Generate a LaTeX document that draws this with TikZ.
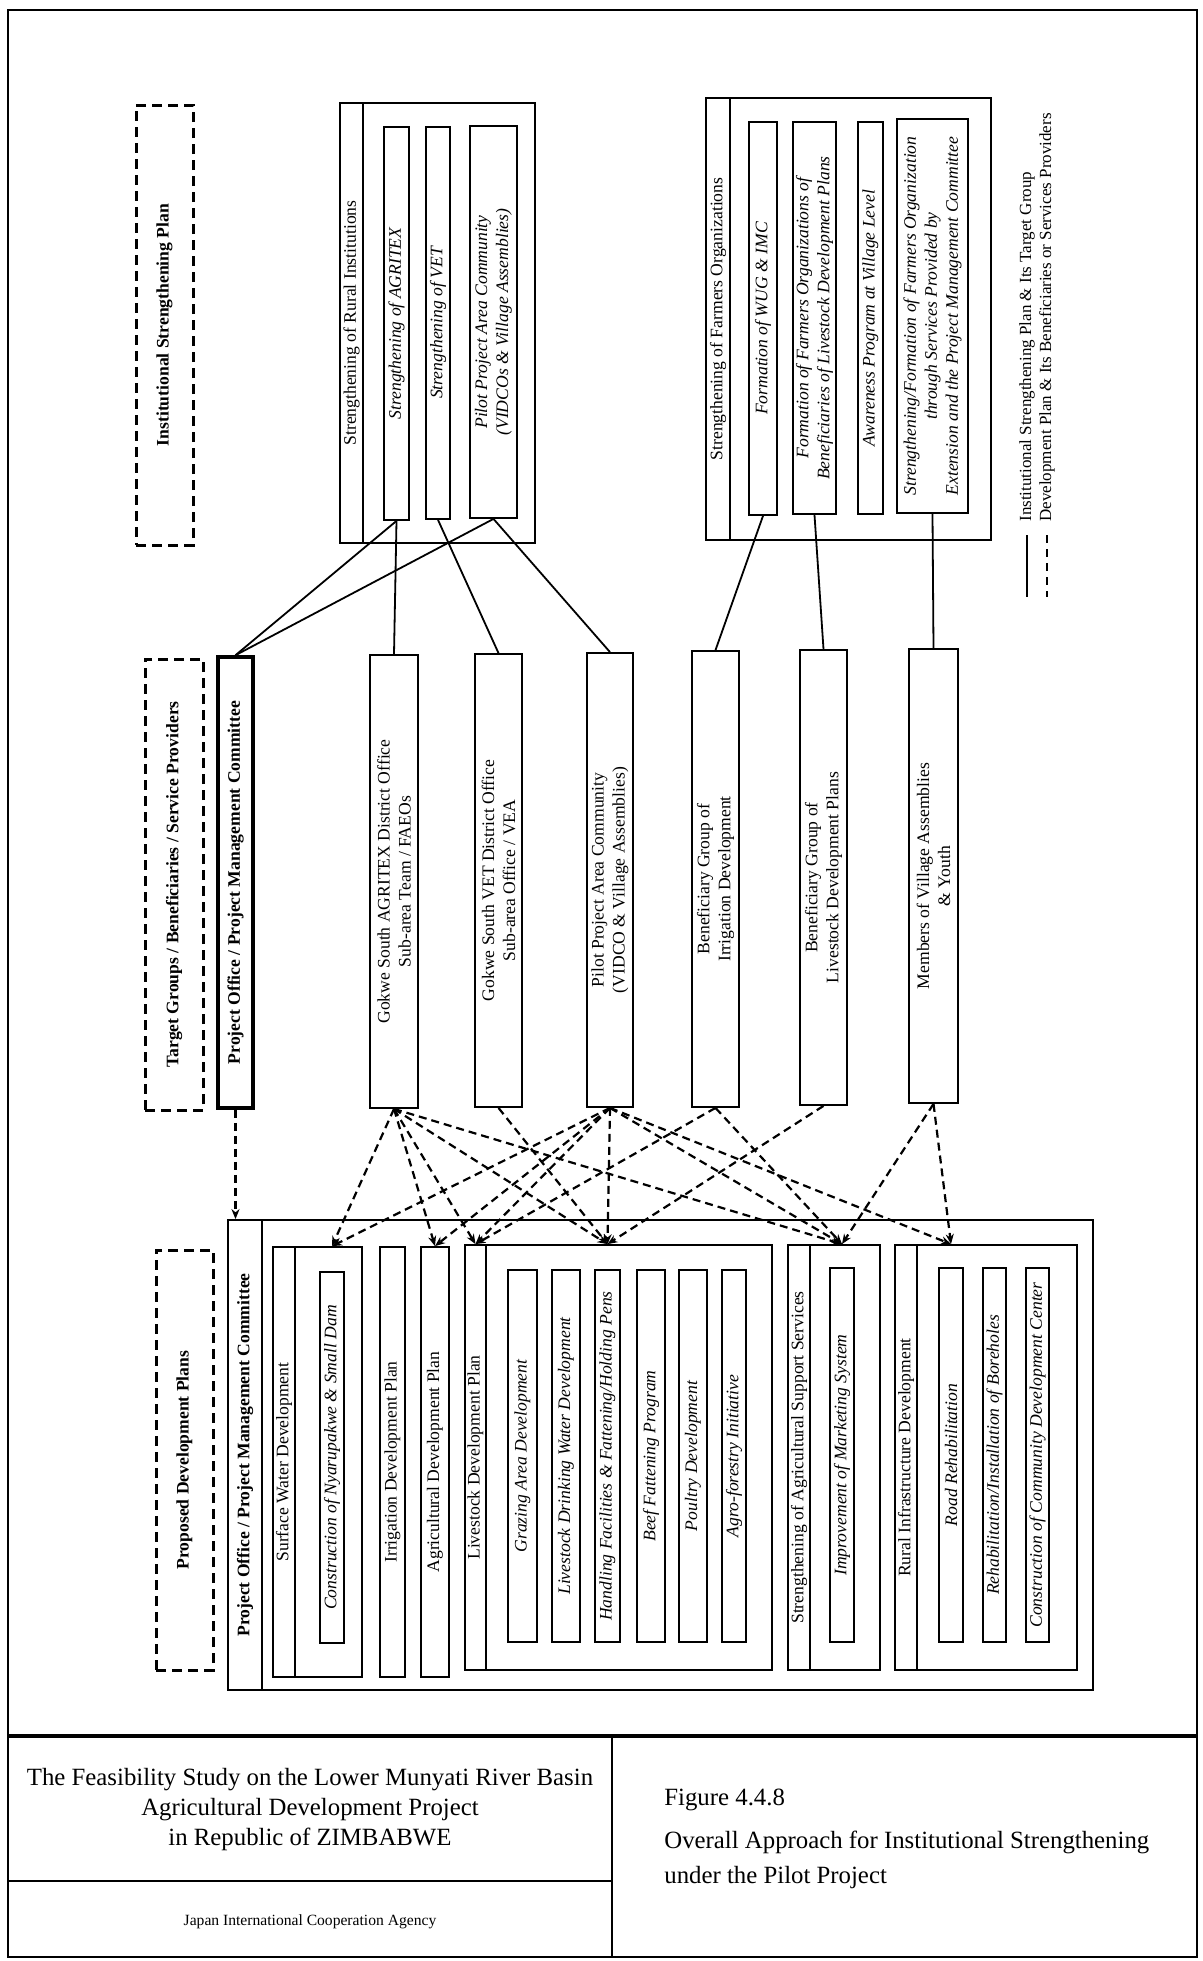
\documentclass[tikz,border=0pt]{standalone}
\usepackage{fontspec}
\setmainfont{Liberation Serif}
\usetikzlibrary{fit,arrows.meta}
\begin{document}
\begin{tikzpicture}[x=0.5pt, y=-0.5pt,
    box/.style={draw, line width=0.9pt, inner sep=0pt},
    thickbox/.style={draw, line width=1.8pt, inner sep=0pt},
    dbox/.style={draw, line width=1.5pt, dash pattern=on 5pt off 3pt, inner sep=0pt},
    txt/.style={rotate=90, align=center, inner sep=0pt, font=\fontsize{8.8}{10.5}\selectfont},
    itxt/.style={txt, font=\fontsize{8.8}{10.5}\selectfont\itshape},
    btxt/.style={txt, font=\fontsize{8.8}{10.5}\selectfont\bfseries},
    isline/.style={line width=0.9pt},
    dpline/.style={line width=1.1pt, dash pattern=on 4pt off 2.5pt, -{Stealth[length=5pt,width=4pt]}},
    ttl/.style={align=center, inner sep=0pt, font=\fontsize{12.4}{15}\selectfont},
  ]
  \useasboundingbox (0,0) rectangle (1203,1961);
  % page frame and title block
  \draw[line width=1.2pt] (8,10) rectangle (1197,1957);
  \draw[line width=1.6pt] (8,1736) -- (1197,1736);
  \draw[line width=1pt] (612,1736) -- (612,1957);
  \draw[line width=1.2pt] (8,1881) -- (612,1881);
  \node[ttl] (study) at (310,1810) {The Feasibility Study on the Lower Munyati River Basin\\Agricultural Development Project\\in Republic of ZIMBABWE};
  \node[ttl, font=\fontsize{7.8}{9}\selectfont] (jica) at (310,1922) {Japan International Cooperation Agency};
  \node[ttl, anchor=west] (fignum) at (664,1800) {Figure 4.4.8};
  \node[ttl, anchor=west, align=left, font=\fontsize{12.4}{17.5}\selectfont] (figttl) at (664,1860) {Overall Approach for Institutional Strengthening\\under the Pilot Project};

  % institutional strengthening plan
  \node[dbox, fit={(136,105)(193,545)}, label={[btxt]center:Institutional Strengthening Plan}] (isplan) {};
  \node[box, fit={(340,103)(535,543)}] (rural) {};
  \node[box, fit={(340,103)(363,543)}, label={[txt]center:Strengthening of Rural Institutions}] (ruralhd) {};
  \node[box, fit={(384,127)(409,520)}, label={[itxt]center:Strengthening of AGRITEX}] (sagritex) {};
  \node[box, fit={(426,127)(450,519)}, label={[itxt]center:Strengthening of VET}] (svet) {};
  \node[box, fit={(470,126)(517,518)}, label={[itxt]center:{Pilot Project Area Community\\(VIDCOs \& Village Assemblies)}}] (spilot) {};
  \node[box, fit={(706,98)(991,540)}] (farmers) {};
  \node[box, fit={(706,98)(730,540)}, label={[txt]center:Strengthening of Farmers Organizations}] (farmershd) {};
  \node[box, fit={(749,122)(777,515)}, label={[itxt]center:Formation of WUG \& IMC}] (fwug) {};
  \node[box, fit={(793,122)(836,514)}, label={[itxt]center:{Formation of Farmers Organizations of\\Beneficiaries of Livestock Development Plans}}] (fform) {};
  \node[box, fit={(858,122)(883,514)}, label={[itxt]center:Awareness Program at Village Level}] (faware) {};
  \node[box, fit={(897,119)(968,513)}, label={[itxt]center:{Strengthening/Formation of Farmers Organization\\through Services Provided by\\Extension and the Project Management Committee}}] (fstrength) {};

  % legend
  \node[txt, anchor=west, font=\fontsize{8.5}{10}\selectfont] (legis) at (1027,522) {Institutional Strengthening Plan \& Its Target Group};
  \node[txt, anchor=west, font=\fontsize{8.5}{10}\selectfont] (legdp) at (1047,522) {Development Plan \& Its Beneficiaries or Services Providers};
  \draw[isline] (1027,535) -- (1027,597);
  \draw[line width=1.1pt, dash pattern=on 4pt off 3pt] (1047,535) -- (1047,597);

  % target groups
  \node[dbox, fit={(145,659)(203,1110)}, label={[btxt]center:Target Groups / Beneficiaries / Service Providers}] (tgroups) {};
  \node[thickbox, fit={(218,657)(253,1108)}, label={[btxt]center:Project Office / Project Management Committee}] (pomid) {};
  \node[box, fit={(370,655)(418,1108)}, label={[txt]center:{Gokwe South AGRITEX District Office\\Sub-area Team / FAEOs}}] (agritex) {};
  \node[box, fit={(475,654)(522,1107)}, label={[txt]center:{Gokwe South VET District Office\\Sub-area Office / VEA}}] (vet) {};
  \node[box, fit={(587,653)(633,1107)}, label={[txt]center:{Pilot Project Area Community\\(VIDCO \& Village Assemblies)}}] (pilot) {};
  \node[box, fit={(692,651)(739,1107)}, label={[txt]center:{Beneficiary Group of\\Irrigation Development}}] (irrig) {};
  \node[box, fit={(800,650)(847,1105)}, label={[txt]center:{Beneficiary Group of\\Livestock Development Plans}}] (lvbg) {};
  \node[box, fit={(909,649)(958,1103)}, label={[txt]center:{Members of Village Assemblies\\\& Youth}}] (members) {};

  % proposed development plans
  \node[dbox, fit={(156,1250)(213,1670)}, label={[btxt]center:Proposed Development Plans}] (pdplans) {};
  \node[box, fit={(228,1220)(1093,1690)}] (outer) {};
  \node[box, fit={(228,1220)(262,1690)}, label={[btxt]center:Project Office / Project Management Committee}] (postrip) {};
  \node[box, fit={(273,1247)(362,1677)}] (surface) {};
  \node[box, fit={(273,1247)(295,1677)}, label={[txt]center:Surface Water Development}] (surfacehd) {};
  \node[box, fit={(320,1272)(344,1643)}, label={[itxt]center:Construction of Nyarupakwe \& Small Dam}] (nyaru) {};
  \node[box, fit={(380,1247)(405,1677)}, label={[txt]center:Irrigation Development Plan}] (irrplan) {};
  \node[box, fit={(421,1247)(449,1677)}, label={[txt]center:Agricultural Development Plan}] (agriplan) {};
  \node[box, fit={(465,1245)(772,1670)}] (livestock) {};
  \node[box, fit={(465,1245)(486,1670)}, label={[txt]center:Livestock Development Plan}] (lvhd) {};
  \node[box, fit={(508,1270)(537,1642)}, label={[itxt]center:Grazing Area Development}] (grazing) {};
  \node[box, fit={(552,1270)(580,1642)}, label={[itxt]center:Livestock Drinking Water Development}] (drinking) {};
  \node[box, fit={(595,1270)(620,1642)}, label={[itxt]center:Handling Facilities \& Fattening/Holding Pens}] (handling) {};
  \node[box, fit={(637,1270)(665,1642)}, label={[itxt]center:Beef Fattening Program}] (beef) {};
  \node[box, fit={(679,1270)(707,1642)}, label={[itxt]center:Poultry Development}] (poultry) {};
  \node[box, fit={(722,1270)(746,1642)}, label={[itxt]center:Agro-forestry Initiative}] (agro) {};
  \node[box, fit={(788,1245)(880,1670)}] (support) {};
  \node[box, fit={(788,1245)(810,1670)}, label={[txt]center:Strengthening of Agricultural Support Services}] (supporthd) {};
  \node[box, fit={(830,1268)(854,1642)}, label={[itxt]center:Improvement of Marketing System}] (marketing) {};
  \node[box, fit={(895,1245)(1077,1670)}] (infra) {};
  \node[box, fit={(895,1245)(917,1670)}, label={[txt]center:Rural Infrastructure Development}] (infrahd) {};
  \node[box, fit={(939,1268)(963,1642)}, label={[itxt]center:Road Rehabilitation}] (road) {};
  \node[box, fit={(983,1268)(1006,1642)}, label={[itxt]center:Rehabilitation/Installation of Boreholes}] (boreholes) {};
  \node[box, fit={(1026,1268)(1049,1642)}, label={[itxt]center:Construction of Community Development Center}] (community) {};

  % institutional strengthening links
  \draw[isline] (sagritex.south) -- (pomid.north);
  \draw[isline] (spilot.south) -- (pomid.north);
  \draw[isline] (sagritex.south) -- (agritex.north);
  \draw[isline] (svet.south) -- (vet.north);
  \draw[isline] (spilot.south) -- (pilot.north);
  \draw[isline] (fwug.south) -- (irrig.north);
  \draw[isline] (fform.south) -- (lvbg.north);
  \draw[isline] (fstrength.south) -- (members.north);

  % development plan links
  \draw[dpline] (pomid.south) -- (pomid.south |- outer.north);
  \draw[dpline] (agritex.south) -- (nyaru.north |- surface.north);
  \draw[dpline] (agritex.south) -- (agriplan.north);
  \draw[dpline] (agritex.south) -- (lvhd.north);
  \draw[dpline] (agritex.south) -- (handling.north |- livestock.north);
  \draw[dpline] (agritex.south) -- (marketing.north |- support.north);
  \draw[dpline] (vet.south) -- (handling.north |- livestock.north);
  \draw[dpline] (pilot.south) -- (nyaru.north |- surface.north);
  \draw[dpline] (pilot.south) -- (agriplan.north);
  \draw[dpline] (pilot.south) -- (lvhd.north);
  \draw[dpline] (pilot.south) -- (handling.north |- livestock.north);
  \draw[dpline] (pilot.south) -- (marketing.north |- support.north);
  \draw[dpline] (pilot.south) -- (road.north |- infra.north);
  \draw[dpline] (irrig.south) -- (lvhd.north);
  \draw[dpline] (irrig.south) -- (marketing.north |- support.north);
  \draw[dpline] (lvbg.south) -- (handling.north |- livestock.north);
  \draw[dpline] (members.south) -- (marketing.north |- support.north);
  \draw[dpline] (members.south) -- (road.north |- infra.north);
\end{tikzpicture}
\end{document}
